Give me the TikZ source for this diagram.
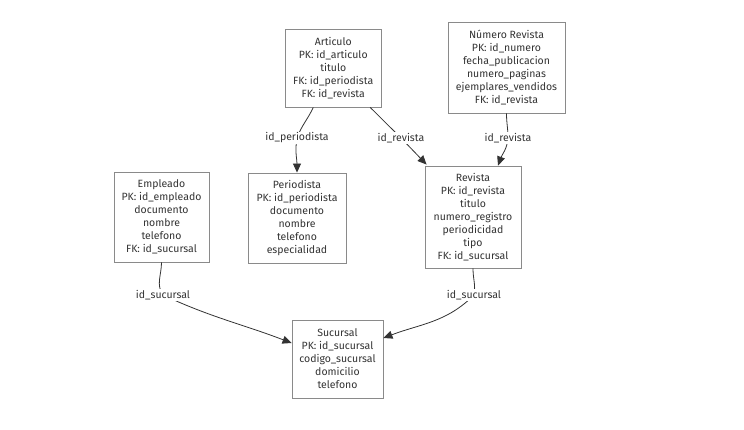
\documentclass[tikz,border=0pt]{standalone}
\usepackage{fontspec}
\setmainfont{Fira Sans}
\usetikzlibrary{arrows.meta,calc}
\definecolor{ink}{HTML}{333333}
\definecolor{boxline}{HTML}{8A8A8A}
\tikzset{
  ent/.style={draw=boxline, line width=0.9pt, fill=white, align=center, inner sep=0pt,
    text=ink, font=\fontsize{10.5}{13}\selectfont},
  rel/.style={draw=ink, line width=0.8pt, -{Triangle[length=9pt,width=8pt]}},
  lbl/.style={fill=white, inner sep=1pt, text=ink, font=\fontsize{10.5}{13}\selectfont}
}
\begin{document}
\begin{tikzpicture}[x=1pt,y=1pt]
\useasboundingbox[fill=white] (0,0) rectangle (744,-429);

% entities
\node[ent, minimum width=95.5, minimum height=77.5] (art) at (333.25,-68.25)
  {Articulo\\PK: id\_articulo\\titulo\\FK: id\_periodista\\FK: id\_revista};
\node[ent, minimum width=117, minimum height=91] (nr) at (506.5,-67.5)
  {Número Revista\\PK: id\_numero\\fecha\_publicacion\\numero\_paginas\\ejemplares\_vendidos\\FK: id\_revista};
\node[ent, minimum width=95, minimum height=90] (emp) at (161.5,-217)
  {Empleado\\PK: id\_empleado\\documento\\nombre\\telefono\\FK: id\_sucursal};
\node[ent, minimum width=98, minimum height=90] (per) at (297,-218)
  {Periodista\\PK: id\_periodista\\documento\\nombre\\telefono\\especialidad};
\node[ent, minimum width=96, minimum height=102] (rev) at (473,-217)
  {Revista\\PK: id\_revista\\titulo\\numero\_registro\\periodicidad\\tipo\\FK: id\_sucursal};
\node[ent, minimum width=91, minimum height=78] (suc) at (337.5,-359)
  {Sucursal\\PK: id\_sucursal\\codigo\_sucursal\\domicilio\\telefono};

% label positions on the relations
\coordinate (c1) at (297,-138);
\coordinate (c2) at (401,-138);
\coordinate (c3) at (508,-138);
\coordinate (c4) at (163,-295);
\coordinate (c5) at (474,-295);

% relations
\draw[rel] ([xshift=-20pt]art.south) to[out=-115,in=70] (c1) to[out=-100,in=90] (per.north);
\draw[rel] ([xshift=37pt]art.south) -- (c2) -- ([xshift=2pt,yshift=1pt]rev.north west);
\draw[rel] (nr.south) to[out=-90,in=90] (c3) to[out=-95,in=70] ([xshift=25pt]rev.north);
\draw[rel] (emp.south) to[out=-90,in=125] (c4) to[out=-25,in=159] ([yshift=16pt]suc.west);
\draw[rel] (rev.south) to[out=-90,in=80] (c5) to[out=-135,in=21] ([yshift=21pt]suc.east);

% relation labels
\node[lbl] (l1) at (c1) {id\_periodista};
\node[lbl] (l2) at (c2) {id\_revista};
\node[lbl] (l3) at (c3) {id\_revista};
\node[lbl] (l4) at (c4) {id\_sucursal};
\node[lbl] (l5) at (c5) {id\_sucursal};
\end{tikzpicture}
\end{document}
